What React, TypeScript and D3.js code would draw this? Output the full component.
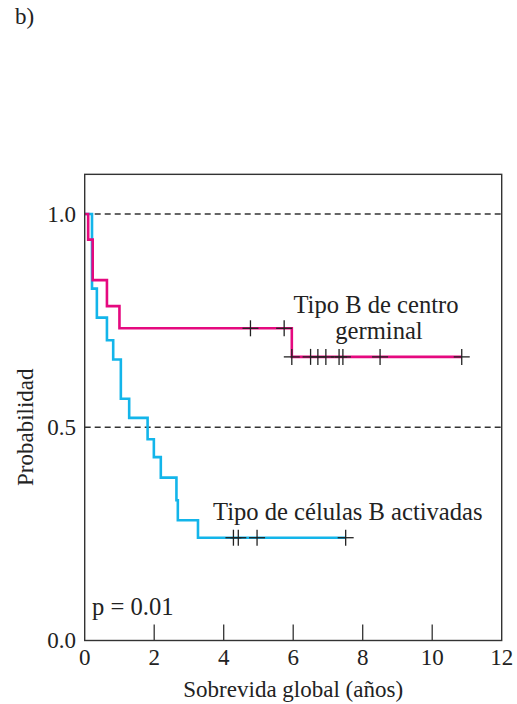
import React from "react";
import * as d3 from "d3";

// Kaplan-Meier data: Tipo B de centro germinal (magenta)
const gcbTimes = [0.1, 0.23, 0.64, 1.0, 5.96];
const gcbSurv = [0.94, 0.845, 0.784, 0.732, 0.665];
const gcbCensor = [4.77, 5.74, 5.96, 6.5, 6.71, 6.94, 7.32, 7.43, 8.5, 10.85];

// Tipo de células B activadas (cyan)
const abcTimes = [0.21, 0.35, 0.64, 0.82, 1.04, 1.28, 1.81, 1.99, 2.19, 2.64, 2.68, 3.26];
const abcSurv = [0.825, 0.757, 0.704, 0.659, 0.567, 0.522, 0.472, 0.43, 0.382, 0.329, 0.282, 0.241];
const abcCensor = [4.28, 4.42, 4.96, 7.51];

const xTicks = [0, 2, 4, 6, 8, 10, 12];
const yTickLabels = ["0.0", "0.5", "1.0"];
const yTickValues = [0, 0.5, 1.0];
const refLines = [0.5, 1.0];

const W = 517;
const H = 704;
const FONT = "'Liberation Serif', 'Times New Roman', serif";
const FS = 23;
const FS_ANN = 24.6;
const MAGENTA = "#E5097F";
const CYAN = "#13B5EA";

const xScale = d3.scaleLinear().domain([0, 12]).range([84.7, 501.7]);
const yScale = d3.scaleLinear().domain([0, 1]).range([640.5, 214]);
const yTop = 1.093;

function survAt(times: number[], surv: number[], t: number) {
  let s = 1;
  for (let i = 0; i < times.length; i++) if (times[i] <= t) s = surv[i];
  return s;
}

function kmPoints(times: number[], surv: number[], censor: number[]): [number, number][] {
  const end = Math.max(...censor, ...times);
  const pts: [number, number][] = [[0, 1]];
  times.forEach((t, i) => pts.push([t, surv[i]]));
  pts.push([end, surv[surv.length - 1]]);
  return pts;
}

const line = d3
  .line<[number, number]>()
  .x((d) => xScale(d[0]))
  .y((d) => yScale(d[1]))
  .curve(d3.curveStepAfter);

function Censors({ times, surv, censor }: { times: number[]; surv: number[]; censor: number[] }) {
  return (
    <g stroke="#222" strokeWidth={1.3}>
      {censor.map((c, i) => {
        const cx = xScale(c);
        const cy = yScale(survAt(times, surv, c));
        return (
          <g key={i}>
            <line x1={cx - 8} x2={cx + 8} y1={cy} y2={cy} />
            <line x1={cx} x2={cx} y1={cy - 8} y2={cy + 8} />
          </g>
        );
      })}
    </g>
  );
}

export default function App() {
  const x0 = xScale(0);
  const x1 = xScale(12);
  const yb = yScale(0);
  const yt = yScale(yTop);
  return (
    <svg
      width={W}
      height={H}
      style={{ position: "absolute", left: 0, top: 0, background: "#fff" }}
      fontFamily={FONT}
    >
      <text x={15} y={24} fontSize={FS} fill="#222">b)</text>

      {/* reference dashed lines */}
      {refLines.map((v) => (
        <line
          key={v}
          x1={x0}
          x2={x1}
          y1={yScale(v)}
          y2={yScale(v)}
          stroke="#333"
          strokeWidth={1.4}
          strokeDasharray="6,4"
        />
      ))}

      {/* curves */}
      <path d={line(kmPoints(abcTimes, abcSurv, abcCensor)) || ""} fill="none" stroke={CYAN} strokeWidth={2.6} />
      <path d={line(kmPoints(gcbTimes, gcbSurv, gcbCensor)) || ""} fill="none" stroke={MAGENTA} strokeWidth={2.6} />

      <Censors times={abcTimes} surv={abcSurv} censor={abcCensor} />
      <Censors times={gcbTimes} surv={gcbSurv} censor={gcbCensor} />

      {/* frame */}
      <rect x={x0} y={yt} width={x1 - x0} height={yb - yt} fill="none" stroke="#333" strokeWidth={1.4} />

      {/* x ticks (inside) */}
      {xTicks.slice(1, -1).map((t) => (
        <line key={t} x1={xScale(t)} x2={xScale(t)} y1={yb} y2={yb - 16} stroke="#333" strokeWidth={1.3} />
      ))}
      {xTicks.map((t) => (
        <text key={t} x={xScale(t)} y={665} fontSize={FS} textAnchor="middle" fill="#222">
          {t}
        </text>
      ))}

      {/* y tick labels */}
      {yTickValues.map((v, i) => (
        <text key={v} x={76} y={yScale(v) + 7.5} fontSize={FS} textAnchor="end" fill="#222">
          {yTickLabels[i]}
        </text>
      ))}

      {/* axis titles */}
      <text x={(x0 + x1) / 2} y={697} fontSize={FS} textAnchor="middle" fill="#222">
        Sobrevida global (años)
      </text>
      <text
        transform={`translate(33, ${yScale(0.5)}) rotate(-90)`}
        fontSize={FS}
        textAnchor="middle"
        fill="#222"
      >
        Probabilidad
      </text>

      {/* annotations */}
      <text x={376} y={313} fontSize={FS_ANN} textAnchor="middle" fill="#222">Tipo B de centro</text>
      <text x={379} y={339} fontSize={FS_ANN} textAnchor="middle" fill="#222">germinal</text>
      <text x={213} y={520} fontSize={FS_ANN} fill="#222">Tipo de células B activadas</text>
      <text x={92} y={615} fontSize={FS_ANN} fill="#222">p = 0.01</text>
    </svg>
  );
}
